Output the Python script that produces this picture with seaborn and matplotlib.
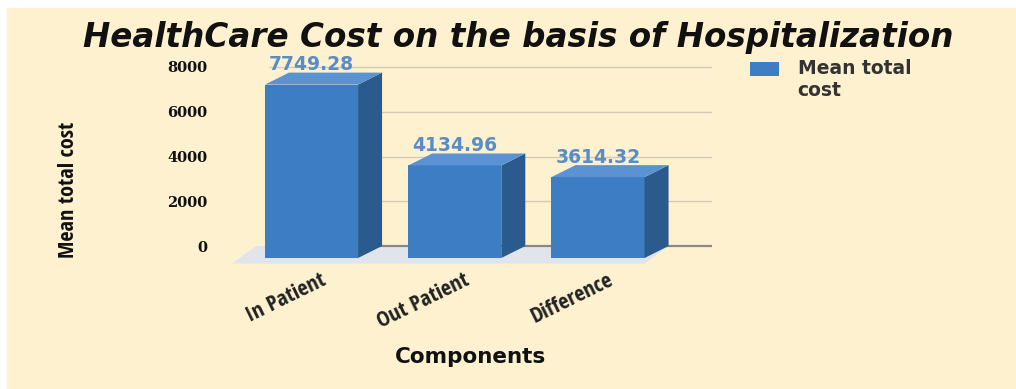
import matplotlib
matplotlib.use("Agg")
import matplotlib.pyplot as plt
import matplotlib.transforms as mtransforms
from matplotlib.patches import Polygon, Rectangle, Patch
from matplotlib.legend_handler import HandlerPatch
import seaborn as sns
import pandas as pd

# ---- data ----
categories = ["In Patient", "Out Patient", "Difference"]
values = [7749.28, 4134.96, 3614.32]
value_labels = ["7749.28", "4134.96", "3614.32"]
y_ticks = [0, 2000, 4000, 6000, 8000]
y_tick_labels = ["0", "2000", "4000", "6000", "8000"]
title = "HealthCare Cost on the basis of Hospitalization"
x_title = "Components"
y_title = "Mean total cost"
legend_label = "Mean total\ncost"

# ---- style ----
sns.set_theme(style="white")
BG = "#fdf1d0"
FRONT = "#3c7dc4"
SIDE = "#2b5a8c"
TOP = "#5b93d2"
LABEL_C = "#5a8dc5"
FLOOR = "#e1e4ea"
GRID = "#d3cbb6"
BASE = "#8a8a84"
NARROW = ["Open Sans Condensed", "DejaVu Sans"]

W, H = 1016, 389
fig = plt.figure(figsize=(W / 100, H / 100), dpi=100, facecolor="white")
fig.patches.append(Rectangle((7 / W, 0), 1 - 7 / W, 1 - 8 / H,
                             transform=fig.transFigure, color=BG, zorder=-10))

# axes placed in pixel terms
L, R, T, B = 220, 712, 60, 270
ax = fig.add_axes([L / W, 1 - B / H, (R - L) / W, (B - T) / H])
ax.set_zorder(2)
ax.set_facecolor("none")
for s in ax.spines.values():
    s.set_visible(False)

df = pd.DataFrame({"cat": categories, "val": values})
bar_w = 0.65
sns.barplot(data=df, x="cat", y="val", color=FRONT, saturation=1, width=bar_w,
            ax=ax, zorder=3, edgecolor="none", linewidth=0)
bars = list(ax.patches)

# geometry: pixel -> data
px_per_cat = 143.25
px_per_unit = 0.022375
x_min = (L - 311.5) / px_per_cat
x_max = (R - 311.5) / px_per_cat
y_min = (258 - B) / px_per_unit
y_max = (258 - T) / px_per_unit
ax.set_xlim(x_min, x_max)
ax.set_ylim(y_min, y_max)

dx = 24 / px_per_cat          # depth offset in category units
dy = 12 / px_per_unit         # depth offset in value units

# floor
floor_x0, floor_x1 = (232 - 311.5) / px_per_cat, 2 + bar_w / 2
floor_y0 = -250
ax.add_patch(Polygon([(floor_x0, floor_y0), (floor_x1, floor_y0), (floor_x1 + dx, dy),
                      (floor_x0 + dx, dy)],
                     closed=True, color=FLOOR, zorder=1, lw=0))

# gridlines on back wall
for v in y_ticks:
    ax.hlines(v + dy, -0.3, x_max, colors=BASE if v == 0 else GRID,
              linewidth=1.6 if v == 0 else 1.0, zorder=2)

# 3D faces from barplot patches
for p, lab in zip(bars, value_labels):
    x0, w, h = p.get_x(), p.get_width(), p.get_height()
    ax.add_patch(Polygon([(x0 + w, 0), (x0 + w + dx, dy), (x0 + w + dx, h + dy), (x0 + w, h)],
                         closed=True, color=SIDE, zorder=3, lw=0))
    ax.add_patch(Polygon([(x0, h), (x0 + w, h), (x0 + w + dx, h + dy), (x0 + dx, h + dy)],
                         closed=True, color=TOP, zorder=3, lw=0))
    ax.text(x0 + w / 2, h + 880, lab, ha="center", va="center", color=LABEL_C,
            fontsize=13.5, fontweight="bold", family="DejaVu Sans", zorder=5)

# y ticks
ax.set_yticks([v + dy for v in y_ticks])
ax.set_yticklabels(y_tick_labels, fontsize=10.5, fontweight="bold",
                   family="DejaVu Serif", color="#111111")
ax.tick_params(axis="y", length=0, pad=9)

# x ticks
ax.set_xticks(range(len(categories)))
ax.set_xticklabels(categories, rotation=26, ha="right", rotation_mode="anchor",
                   fontsize=16, fontweight="bold", family=NARROW, color="#222222")
ax.tick_params(axis="x", length=0, pad=0)
offset = mtransforms.ScaledTranslation(9 / 100, 0, fig.dpi_scale_trans)
for t in ax.get_xticklabels():
    t.set_transform(t.get_transform() + offset)
ax.set_xlabel("")
ax.set_ylabel("")

# titles
fig.text(518 / W, 1 - 37 / H, title, ha="center", va="center", fontsize=23.5,
         fontweight="bold", style="italic", family="DejaVu Sans", color="#111111")
fig.text(470 / W, 1 - 357 / H, x_title, ha="center", va="center", fontsize=15.5,
         fontweight="bold", family="DejaVu Sans", color="#111111")
fig.text(69 / W, 1 - 190 / H, y_title, ha="center", va="center", rotation=90,
         fontsize=16, fontweight="bold", family=NARROW, color="#111111")


# legend (handle aligned with the first text line)
def raised_patch(legend, orig_handle, xdescent, ydescent, width, height, fontsize):
    return Rectangle((-xdescent, -ydescent + 0.62 * fontsize), width, height)


handle = Patch(facecolor=FRONT, edgecolor="none")
leg = ax.legend([handle], [legend_label], loc="upper left",
                bbox_to_anchor=(733 / W, 1 - 42 / H), bbox_transform=fig.transFigure,
                frameon=False, handlelength=1.55, handleheight=0.75, handletextpad=1.0,
                prop={"family": "DejaVu Sans", "weight": "bold", "size": 13.5},
                handler_map={Patch: HandlerPatch(patch_func=raised_patch)})
for txt in leg.get_texts():
    txt.set_color("#333333")

fig.savefig("out.png", dpi=100, facecolor="white")
